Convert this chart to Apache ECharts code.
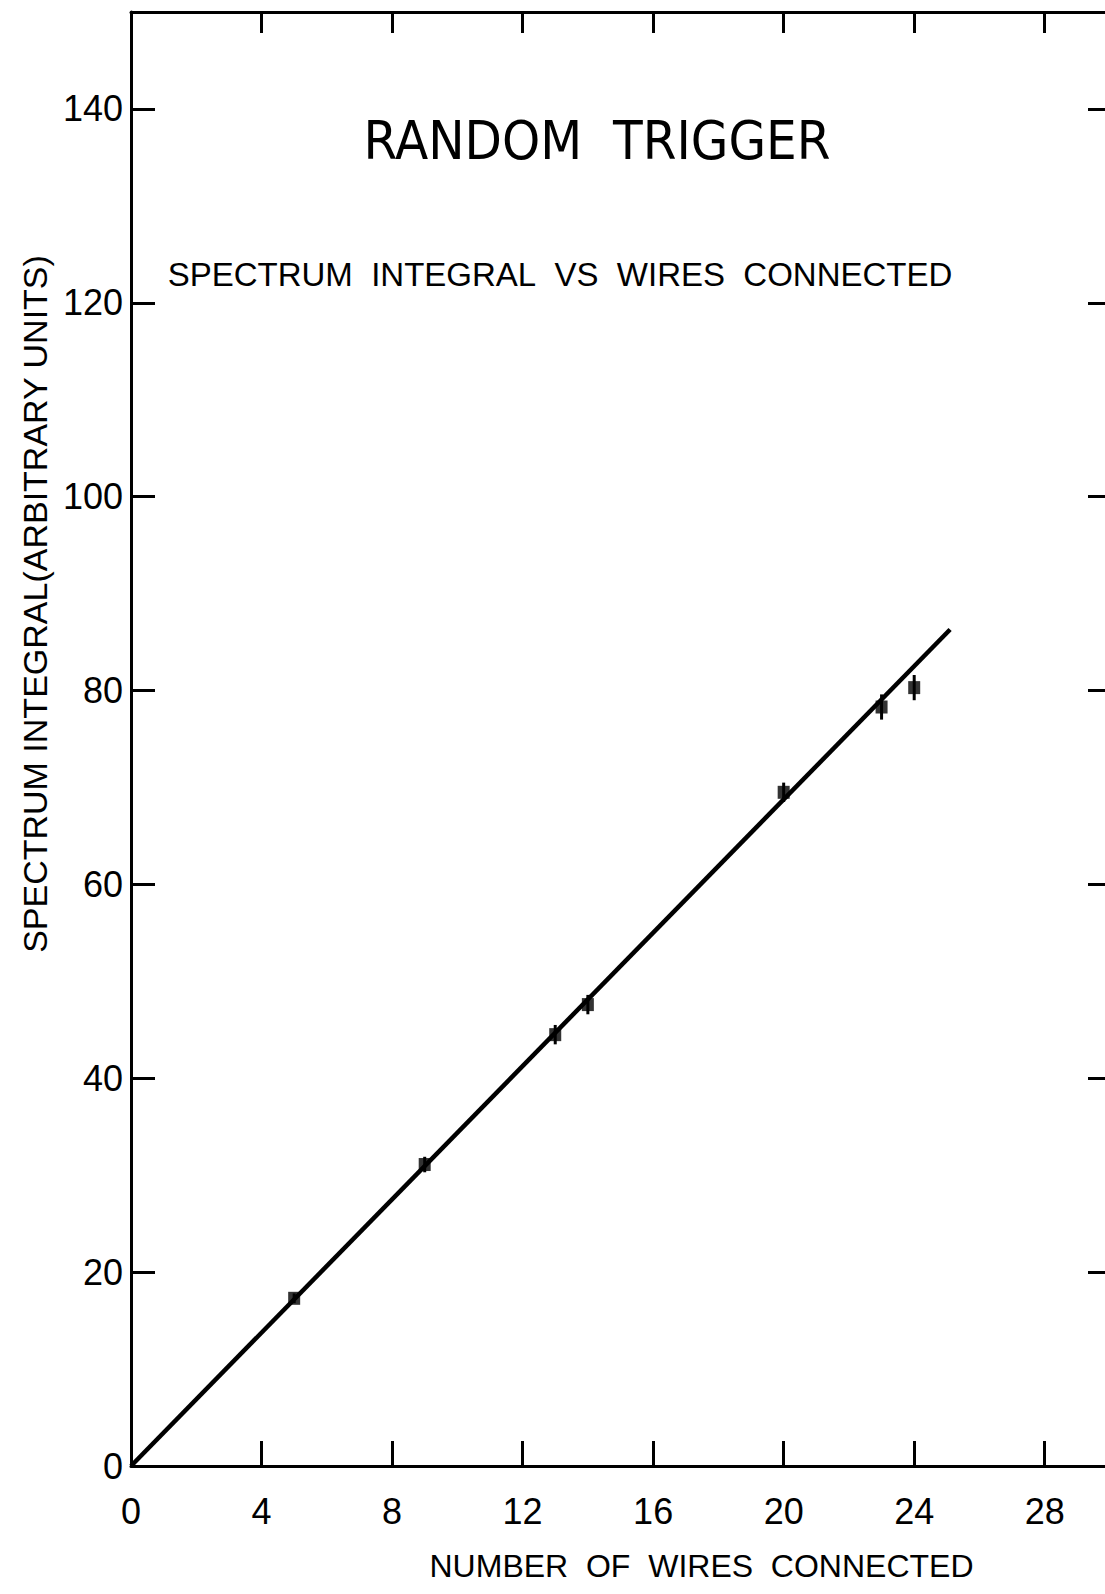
<!DOCTYPE html>
<html>
<head>
<meta charset="utf-8">
<script src="https://cdn.jsdelivr.net/npm/echarts@6/dist/echarts.min.js"></script>
<style>
html,body{margin:0;padding:0;background:#fff;}
#chart{width:1105px;height:1594px;}
</style>
</head>
<body>
<div id="chart"></div>
<script>
// ---- data ----
const wires = [5, 9, 13, 14, 20, 23, 24];
const integral = [17.3, 31.1, 44.5, 47.6, 69.5, 78.3, 80.3];
const errors = [0.5, 0.8, 1.0, 1.0, 1.0, 1.3, 1.3];
const fitX = [0, 25.1];
const fitY = [0, 86.3];
const xTicks = [0, 4, 8, 12, 16, 20, 24, 28];
const yTicks = [0, 20, 40, 60, 80, 100, 120, 140];
const titleText = 'RANDOM\u00a0\u00a0TRIGGER';
const subtitleText = 'SPECTRUM\u00a0 INTEGRAL\u00a0 VS\u00a0 WIRES\u00a0 CONNECTED';
const xName = 'NUMBER\u00a0 OF\u00a0 WIRES\u00a0 CONNECTED';
const yName = 'SPECTRUM INTEGRAL(ARBITRARY UNITS)';

const FONT = '"Liberation Sans", Arial, sans-serif';
const NARROW = '"Liberation Sans Narrow", "DejaVu Sans Condensed", "Liberation Sans", sans-serif';
const pts = wires.map((w, i) => [w, integral[i]]);
const errData = wires.map((w, i) => [w, integral[i] - errors[i], integral[i] + errors[i]]);
const fitData = fitX.map((x, i) => [x, fitY[i]]);

const chart = echarts.init(document.getElementById('chart'), null, {renderer: 'svg'});
const axisLine = {show: true, onZero: false, lineStyle: {color: '#000', width: 3}};
const baseX = {
  type: 'value', min: 0, max: 30, interval: 4,
  splitLine: {show: false}, axisLine: axisLine
};
const baseY = {
  type: 'value', min: 0, max: 150, interval: 20,
  splitLine: {show: false}, axisLine: axisLine
};
chart.setOption({
  animation: false,
  backgroundColor: '#fff',
  grid: {left: 131, top: 12, right: -5, bottom: 128, containLabel: false, outerBoundsMode: 'none'},
  graphic: [
    {type: 'text', x: 597, y: 140,
     style: {text: titleText, font: '54px ' + NARROW, fill: '#000', align: 'center', verticalAlign: 'middle'}},
    {type: 'text', x: 560, y: 274,
     style: {text: subtitleText, font: '33px ' + FONT, fill: '#000', align: 'center', verticalAlign: 'middle'}}
  ],
  xAxis: [
    Object.assign({}, baseX, {
      position: 'bottom',
      name: xName, nameLocation: 'middle', nameGap: 84,
      nameTextStyle: {fontFamily: FONT, fontSize: 32, color: '#000', padding: [0, 0, 0, 162]},
      axisTick: {show: true, inside: true, length: 25, lineStyle: {color: '#000', width: 3}},
      axisLabel: {show: true, margin: 27, fontFamily: FONT, fontSize: 36, color: '#000',
        formatter: v => xTicks.indexOf(v) >= 0 ? String(v) : ''}
    }),
    Object.assign({}, baseX, {
      position: 'top',
      axisTick: {show: true, inside: true, length: 21, lineStyle: {color: '#000', width: 3}},
      axisLabel: {show: false}
    })
  ],
  yAxis: [
    Object.assign({}, baseY, {
      position: 'left',
      name: yName, nameLocation: 'middle', nameGap: 72,
      nameTextStyle: {fontFamily: FONT, fontSize: 34, color: '#000', padding: [0, 0, 0, 270]},
      axisTick: {show: true, inside: true, length: 24, lineStyle: {color: '#000', width: 3}},
      axisLabel: {show: true, margin: 8, fontFamily: FONT, fontSize: 36, color: '#000',
        formatter: v => yTicks.indexOf(v) >= 0 ? String(v) : ''}
    }),
    Object.assign({}, baseY, {
      position: 'right',
      axisTick: {show: true, inside: true, length: 22, lineStyle: {color: '#000', width: 3}},
      axisLabel: {show: false}
    })
  ],
  series: [
    {
      type: 'line', data: fitData, xAxisIndex: 0, yAxisIndex: 0,
      showSymbol: false, symbol: 'none',
      lineStyle: {color: '#000', width: 4.5}, z: 2
    },
    {
      type: 'custom', data: errData, xAxisIndex: 0, yAxisIndex: 0, z: 3,
      renderItem: function (params, api) {
        const x = api.value(0);
        const lo = api.coord([x, api.value(1)]);
        const hi = api.coord([x, api.value(2)]);
        return {
          type: 'line',
          shape: {x1: lo[0], y1: lo[1], x2: hi[0], y2: hi[1]},
          style: {stroke: '#000', lineWidth: 3}
        };
      }
    },
    {
      type: 'scatter', data: pts, xAxisIndex: 0, yAxisIndex: 0,
      symbol: 'rect', symbolSize: [12, 13],
      itemStyle: {color: '#000'}, z: 4
    }
  ]
});
</script>
</body>
</html>
